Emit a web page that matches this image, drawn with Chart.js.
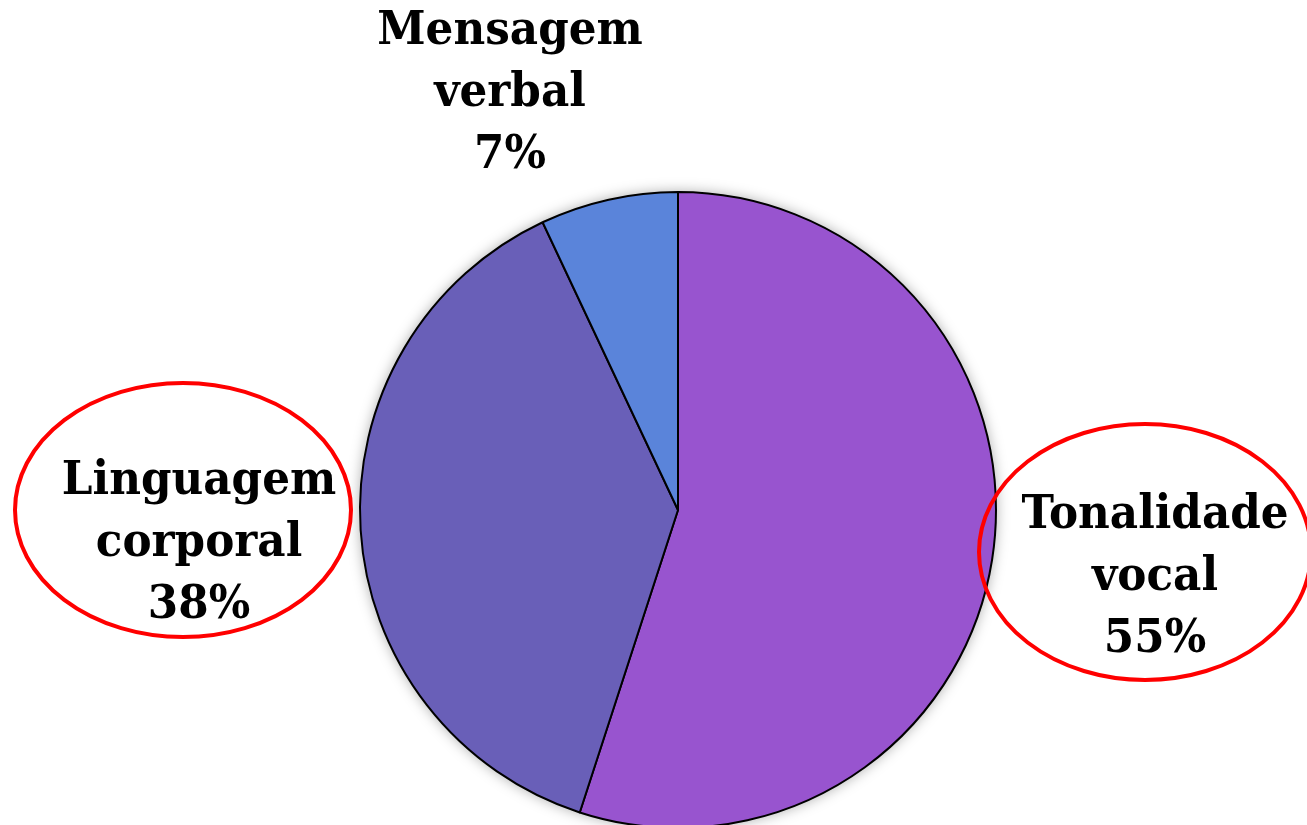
<!DOCTYPE html>
<html>
<head>
<meta charset="utf-8">
<script src="https://cdn.jsdelivr.net/npm/chart.js@4.4.1/dist/chart.umd.min.js"></script>
<style>
  html, body { margin: 0; padding: 0; background: #fff; overflow: hidden; }
  #wrap { width: 1307px; height: 900px; position: relative; }
</style>
</head>
<body>
<div id="wrap"><canvas id="pie"></canvas></div>
<script>
const categories = ['Tonalidade vocal', 'Linguagem corporal', 'Mensagem verbal'];
const labelLines = [['Tonalidade', 'vocal'], ['Linguagem', 'corporal'], ['Mensagem', 'verbal']];
const percents = [55, 38, 7];
const sliceColors = ['#9854CF', '#695FB8', '#5A84DA'];
const circled = [true, true, false];

// label block centre, offset from pie centre, plus ellipse size
const labelOffsets = [
    { dx: 477, dy: 68, ex: 467, ey: 42, rx: 166, ry: 128 },
    { dx: -479, dy: 34, ex: -495, ey: 0, rx: 168, ry: 127 },
    { dx: -168, dy: -416 }
];

const labelPlugin = {
    id: 'outerLabels',
    beforeDatasetsDraw(chart) {
        const arc = chart.getDatasetMeta(0).data[0];
        const ctx = chart.ctx;
        ctx.save();
        ctx.shadowColor = 'rgba(0,0,0,0.35)';
        ctx.shadowBlur = 14;
        ctx.beginPath();
        ctx.arc(arc.x, arc.y, arc.outerRadius, 0, Math.PI * 2);
        ctx.fillStyle = '#fff';
        ctx.fill();
        ctx.restore();
    },
    afterDatasetsDraw(chart) {
        const ctx = chart.ctx;
        const arc = chart.getDatasetMeta(0).data[0];
        const cx = arc.x, cy = arc.y;
        categories.forEach((c, i) => {
            const o = labelOffsets[i];
            const lines = labelLines[i].concat([percents[i] + '%']);
            const lh = 62;
            const top = cy + o.dy - lh;
            ctx.save();
            ctx.font = 'bold 47px "DejaVu Serif"';
            ctx.textAlign = 'center';
            ctx.textBaseline = 'middle';
            ctx.fillStyle = '#000';
            ctx.translate(cx + o.dx, 0);
            ctx.scale(0.93, 1);
            lines.forEach((t, j) => ctx.fillText(t, 0, top + j * lh));
            ctx.restore();
            if (circled[i]) {
                ctx.save();
                ctx.beginPath();
                ctx.ellipse(cx + o.ex, cy + o.ey, o.rx, o.ry, 0, 0, Math.PI * 2);
                ctx.strokeStyle = '#FF0000';
                ctx.lineWidth = 4;
                ctx.stroke();
                ctx.restore();
            }
        });
    }
};

new Chart(document.getElementById('pie'), {
    type: 'pie',
    data: {
        labels: categories,
        datasets: [{
            data: percents,
            backgroundColor: sliceColors,
            borderColor: '#000',
            borderWidth: 2,
            hoverOffset: 0
        }]
    },
    options: {
        responsive: true,
        maintainAspectRatio: false,
        animation: false,
        layout: { padding: { top: 191, bottom: 71, left: 278, right: 229 } },
        plugins: {
            legend: { display: false },
            tooltip: { enabled: false }
        }
    },
    plugins: [labelPlugin]
});
</script>
</body>
</html>
